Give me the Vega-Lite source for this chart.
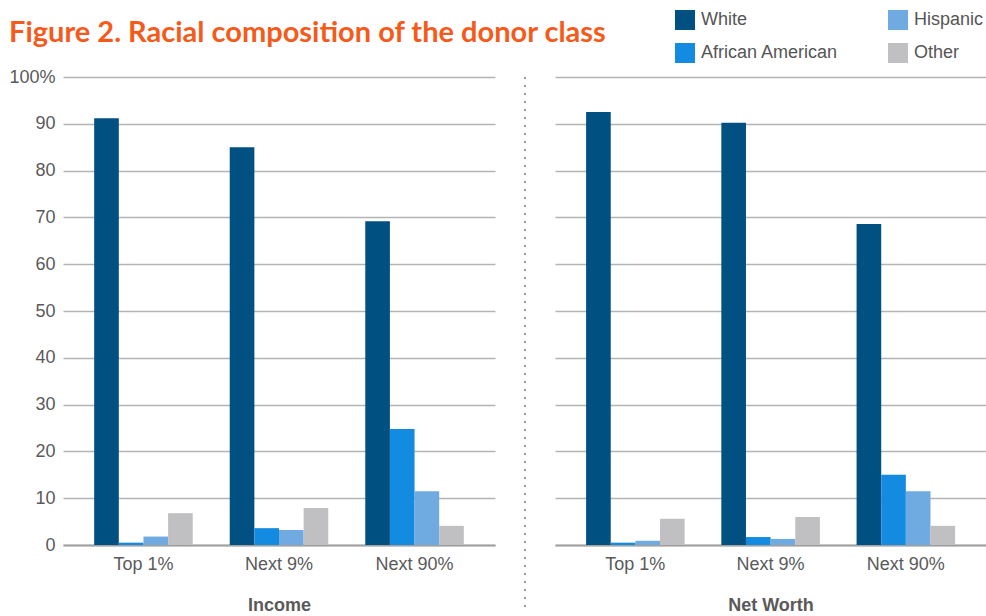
{
  "$schema": "https://vega.github.io/schema/vega-lite/v6.json",
  "padding": {"left": 8, "top": 10, "right": 1, "bottom": 0},
  "title": {
    "text": "Figure 2. Racial composition of the donor class",
    "anchor": "start",
    "frame": "group",
    "orient": "top",
    "offset": -38,
    "dx": -54,
    "font": "Lato",
    "fontSize": 29,
    "fontWeight": "bold",
    "color": "#F65A1B"
  },
  "datasets": {
    "d": [
      {"panel": "Income", "group": "Top 1%", "race": "White", "value": 91.2},
      {"panel": "Income", "group": "Top 1%", "race": "African American", "value": 0.5},
      {"panel": "Income", "group": "Top 1%", "race": "Hispanic", "value": 1.8},
      {"panel": "Income", "group": "Top 1%", "race": "Other", "value": 6.8},
      {"panel": "Income", "group": "Next 9%", "race": "White", "value": 85.0},
      {"panel": "Income", "group": "Next 9%", "race": "African American", "value": 3.6},
      {"panel": "Income", "group": "Next 9%", "race": "Hispanic", "value": 3.2},
      {"panel": "Income", "group": "Next 9%", "race": "Other", "value": 7.9},
      {"panel": "Income", "group": "Next 90%", "race": "White", "value": 69.2},
      {"panel": "Income", "group": "Next 90%", "race": "African American", "value": 24.8},
      {"panel": "Income", "group": "Next 90%", "race": "Hispanic", "value": 11.5},
      {"panel": "Income", "group": "Next 90%", "race": "Other", "value": 4.1},
      {"panel": "Net Worth", "group": "Top 1%", "race": "White", "value": 92.5},
      {"panel": "Net Worth", "group": "Top 1%", "race": "African American", "value": 0.5},
      {"panel": "Net Worth", "group": "Top 1%", "race": "Hispanic", "value": 0.9},
      {"panel": "Net Worth", "group": "Top 1%", "race": "Other", "value": 5.6},
      {"panel": "Net Worth", "group": "Next 9%", "race": "White", "value": 90.2},
      {"panel": "Net Worth", "group": "Next 9%", "race": "African American", "value": 1.7},
      {"panel": "Net Worth", "group": "Next 9%", "race": "Hispanic", "value": 1.3},
      {"panel": "Net Worth", "group": "Next 9%", "race": "Other", "value": 6.0},
      {"panel": "Net Worth", "group": "Next 90%", "race": "White", "value": 68.6},
      {"panel": "Net Worth", "group": "Next 90%", "race": "African American", "value": 15.0},
      {"panel": "Net Worth", "group": "Next 90%", "race": "Hispanic", "value": 11.5},
      {"panel": "Net Worth", "group": "Next 90%", "race": "Other", "value": 4.1}
    ]
  },
  "spacing": 29,
  "hconcat": [
    {
      "width": 432,
      "height": 468,
      "data": {"name": "d"},
      "transform": [{"filter": "datum.panel === 'Income'"}],
      "mark": {"type": "bar"},
      "encoding": {
        "x": {
          "field": "group", "type": "nominal", "sort": ["Top 1%", "Next 9%", "Next 90%"],
          "scale": {"paddingInner": 0.273, "paddingOuter": 0.23},
          "axis": {"title": "Income", "labelAngle": 0}
        },
        "xOffset": {
          "field": "race", "type": "nominal", "sort": ["White", "African American", "Hispanic", "Other"],
          "scale": {"paddingInner": 0, "paddingOuter": 0}
        },
        "y": {
          "field": "value", "type": "quantitative",
          "scale": {"domain": [0, 100]},
          "axis": {
            "title": null,
            "values": [0, 10, 20, 30, 40, 50, 60, 70, 80, 90, 100],
            "labelExpr": "datum.value == 100 ? '100%' : datum.label"
          }
        },
        "color": {
          "field": "race", "type": "nominal",
          "scale": {"domain": ["White", "African American", "Hispanic", "Other"], "range": ["#005182", "#128BE0", "#6FAAE0", "#C0C0C2"]},
          "legend": {
            "title": null,
            "orient": "none",
            "legendX": 612,
            "legendY": -67,
            "columns": 2,
            "columnPadding": 49,
            "rowPadding": 13,
            "symbolType": "square",
            "symbolSize": 400,
            "symbolStrokeWidth": 0,
            "labelFontSize": 18,
            "labelFont": "Liberation Sans",
            "labelColor": "#555555",
            "labelOffset": 6,
            "padding": 0
          }
        }
      }
    },
    {
      "width": 1,
      "height": 535,
      "data": {"values": [{"v": 0}]},
      "mark": {"type": "rule", "strokeDash": [2, 6], "strokeWidth": 2, "color": "#9a9a9a"},
      "encoding": {
        "x": {"field": "v", "type": "quantitative", "scale": {"domain": [0, 1]}, "axis": null}
      }
    },
    {
      "width": 431,
      "height": 468,
      "data": {"name": "d"},
      "transform": [{"filter": "datum.panel === 'Net Worth'"}],
      "mark": {"type": "bar"},
      "encoding": {
        "x": {
          "field": "group", "type": "nominal", "sort": ["Top 1%", "Next 9%", "Next 90%"],
          "scale": {"paddingInner": 0.273, "paddingOuter": 0.23},
          "axis": {"title": "Net Worth", "labelAngle": 0}
        },
        "xOffset": {
          "field": "race", "type": "nominal", "sort": ["White", "African American", "Hispanic", "Other"],
          "scale": {"paddingInner": 0, "paddingOuter": 0}
        },
        "y": {
          "field": "value", "type": "quantitative",
          "scale": {"domain": [0, 100]},
          "axis": {
            "title": null,
            "labels": false,
            "minExtent": 0,
            "values": [0, 10, 20, 30, 40, 50, 60, 70, 80, 90, 100]
          }
        },
        "color": {
          "field": "race", "type": "nominal",
          "scale": {"domain": ["White", "African American", "Hispanic", "Other"], "range": ["#005182", "#128BE0", "#6FAAE0", "#C0C0C2"]}
        }
      }
    }
  ],
  "config": {
    "view": {"stroke": null},
    "font": "Liberation Sans",
    "axis": {
      "ticks": false,
      "labelFont": "Liberation Sans",
      "labelFontSize": 18,
      "labelColor": "#5a5a5a",
      "titleFont": "Liberation Sans",
      "titleFontSize": 18,
      "titleFontWeight": "bold",
      "titleColor": "#5a5a5a"
    },
    "axisY": {
      "domain": false,
      "grid": true,
      "gridColor": "#b4b4b4",
      "gridWidth": 1.5,
      "labelPadding": 8
    },
    "axisX": {
      "domain": true,
      "domainColor": "#a0a0a0",
      "domainWidth": 2,
      "grid": false,
      "labelPadding": 10,
      "titlePadding": 23
    }
  }
}
